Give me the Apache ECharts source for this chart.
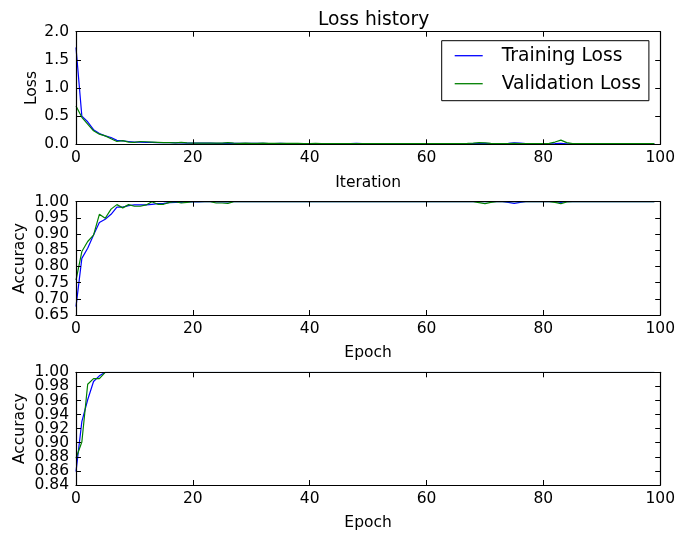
<!DOCTYPE html>
<html><head><meta charset="utf-8">
<script src="https://cdn.jsdelivr.net/npm/echarts@6/dist/echarts.min.js"></script>
<style>html,body{margin:0;padding:0;background:#fff}#c{width:678px;height:535px}</style>
</head><body><div id="c"></div>
<script>
const iterations = Array.from({length:100},(_,i)=>i);
const lossTrain = [1.72,0.50,0.40,0.26,0.19,0.15,0.12,0.07,0.06,0.05,
0.04,0.04,0.035,0.035,0.03,0.03,0.028,0.025,0.025,0.022,
0.02,0.02,0.02,0.02,0.018,0.018,0.02,0.018,0.016,0.016,
0.015,0.015,0.016,0.014,0.014,0.015,0.013,0.013,0.014,0.012,
0.012,0.013,0.012,0.011,0.012,0.011,0.012,0.011,0.015,0.011,
0.01,0.011,0.01,0.01,0.012,0.01,0.01,0.011,0.01,0.01,
0.01,0.01,0.011,0.01,0.01,0.01,0.011,0.01,0.012,0.014,
0.018,0.012,0.01,0.01,0.015,0.028,0.02,0.012,0.01,0.01,
0.01,0.01,0.012,0.015,0.01,0.01,0.01,0.01,0.01,0.01,
0.01,0.01,0.01,0.01,0.01,0.01,0.01,0.01,0.01,0.01];
const lossVal = [0.68,0.48,0.36,0.24,0.18,0.15,0.10,0.05,0.065,0.04,
0.035,0.05,0.045,0.04,0.035,0.03,0.028,0.025,0.035,0.025,
0.02,0.02,0.022,0.02,0.02,0.022,0.03,0.02,0.018,0.02,
0.018,0.018,0.02,0.016,0.016,0.018,0.015,0.015,0.016,0.014,
0.014,0.015,0.013,0.013,0.014,0.012,0.013,0.012,0.013,0.012,
0.012,0.012,0.011,0.012,0.011,0.011,0.012,0.011,0.011,0.012,
0.011,0.011,0.012,0.011,0.012,0.011,0.012,0.015,0.02,0.03,
0.025,0.015,0.012,0.011,0.012,0.015,0.012,0.011,0.011,0.012,
0.011,0.015,0.04,0.075,0.03,0.012,0.011,0.011,0.012,0.011,
0.011,0.011,0.011,0.012,0.011,0.011,0.011,0.011,0.011,0.011];
const accTrain = [0.676,0.825,0.856,0.897,0.936,0.946,0.961,0.983,0.983,0.988,
0.99,0.99,0.99,0.992,0.994,0.995,0.997,0.998,0.998,0.999,
0.999,0.999,1,1,0.999,1,0.999,1,1,1,
1,1,1,1,1,1,1,1,1,1,
1,1,1,1,1,1,1,1,1,1,
1,1,1,1,1,1,1,1,1,1,
1,1,1,1,1,1,1,1,1,1,
1,1,1,1,0.998,0.995,0.998,1,1,1,
1,1,1,0.998,1,1,1,1,1,1,
1,1,1,1,1,1,1,1,1,1];
const accVal = [0.758,0.846,0.877,0.897,0.961,0.949,0.977,0.991,0.981,0.991,
0.986,0.986,0.99,1,0.992,0.992,0.998,1,0.996,0.998,
1,1,1,1,0.996,0.996,0.995,1,1,1,
1,1,1,1,1,1,1,1,1,1,
1,1,1,1,1,1,1,1,1,1,
1,1,1,1,1,1,1,1,1,1,
1,1,1,1,1,1,1,1,1,0.997,
0.994,0.998,1,1,1,1,1,1,1,1,
1,1,0.998,0.994,0.999,1,1,1,1,1,
1,1,1,1,1,1,1,1,1,1];
const acc2Train = [0.859,0.93,0.961,0.987,0.995,1,1,1,1,1,
1,1,1,1,1,1,1,1,1,1,1,1,1,1,1,1,1,1,1,1,
1,1,1,1,1,1,1,1,1,1,1,1,1,1,1,1,1,1,1,1,
1,1,1,1,1,1,1,1,1,1,1,1,1,1,1,1,1,1,1,1,
1,1,1,1,1,1,1,1,1,1,1,1,1,1,1,1,1,1,1,1,
1,1,1,1,1,1,1,1,1,1];
const acc2Val = [0.878,0.901,0.983,0.991,0.991,1,1,1,1,1,
1,1,1,1,1,1,1,1,1,1,1,1,1,1,1,1,1,1,1,1,
1,1,1,1,1,1,1,1,1,1,1,1,1,1,1,1,1,1,1,1,
1,1,1,1,1,1,1,1,1,1,1,1,1,1,1,1,1,1,1,1,
1,1,1,1,1,1,1,1,1,1,1,1,1,1,1,1,1,1,1,1,
1,1,1,1,1,1,1,1,1,1];

const FONT = 'DejaVu Sans';
const grids = [
  {left:76, right:15.3, top:31.7, height:112.6},
  {left:76, right:15.3, top:201.7, height:113.3},
  {left:76, right:15.3, top:372.3, height:112.7}
];
const yCfg = [
  {min:0, max:2, interval:0.5, dec:1, name:'Loss', gap:36},
  {min:0.65, max:1.0, interval:0.05, dec:2, name:'Accuracy', gap:48},
  {min:0.84, max:1.0, interval:0.02, dec:2, name:'Accuracy', gap:48}
];
const xNames = ['Iteration','Epoch','Epoch'];
const xGaps = [31, 30, 30];
const lineS = {color:'#000', width:1.2};
const tickS = {show:true, inside:true, length:5, lineStyle:{color:'#000', width:1}};
const labS = {color:'#000', fontFamily:FONT, fontSize:15.5};
const xAxes = [], yAxes = [];
grids.forEach((g,i)=>{
  xAxes.push({type:'value', gridIndex:i, position:'bottom', min:0, max:100, interval:20, z:10,
    axisLine:{show:true, onZero:false, lineStyle:lineS}, axisTick:tickS, splitLine:{show:false},
    axisLabel:Object.assign({margin:6, showMinLabel:true, showMaxLabel:true}, labS),
    name:xNames[i], nameLocation:'middle', nameGap:xGaps[i], nameMoveOverlap:false,
    nameTextStyle:labS});
  xAxes.push({type:'value', gridIndex:i, position:'top', min:0, max:100, interval:20, z:10,
    axisLine:{show:true, onZero:false, lineStyle:lineS}, axisTick:tickS, splitLine:{show:false},
    axisLabel:{show:false}});
  const c = yCfg[i];
  // main left axis: inner labels (min/max labels drawn by the helper axis below)
  yAxes.push({type:'value', gridIndex:i, position:'left', min:c.min, max:c.max, interval:c.interval, z:10,
    axisLine:{show:true, onZero:false, lineStyle:lineS}, axisTick:tickS, splitLine:{show:false},
    axisLabel:Object.assign({margin:7, showMinLabel:false, showMaxLabel:false, formatter:v=>v.toFixed(c.dec)}, labS),
    name:c.name, nameLocation:'middle', nameGap:c.gap, nameRotate:90, nameMoveOverlap:false,
    nameTextStyle:labS});
  yAxes.push({type:'value', gridIndex:i, position:'right', min:c.min, max:c.max, interval:c.interval, z:10,
    axisLine:{show:true, onZero:false, lineStyle:lineS}, axisTick:tickS, splitLine:{show:false},
    axisLabel:{show:false}});
  // helper left axis: only min & max labels
  yAxes.push({type:'value', gridIndex:i, position:'left', offset:0, min:c.min, max:c.max, interval:c.interval, z:10,
    axisLine:{show:false}, axisTick:{show:false}, splitLine:{show:false},
    axisLabel:Object.assign({margin:7, customValues:[c.min, c.max], showMinLabel:true, showMaxLabel:true, formatter:v=>v.toFixed(c.dec)}, labS)});
});
function mk(name, data, color, gi){
  return {type:'line', name:name, xAxisIndex:gi*2, yAxisIndex:gi*3,
    data:data.map((v,k)=>[iterations[k], v]), symbol:'none', showSymbol:false,
    lineStyle:{color:color, width:1.2}, itemStyle:{color:color}, animation:false, z:2};
}
const option = {
  animation:false,
  backgroundColor:'#fff',
  title:{text:'Loss history', left:313, top:6, textStyle:{color:'#000', fontFamily:FONT, fontSize:18.7, fontWeight:'normal'}},
  legend:{show:true, data:['Training Loss','Validation Loss'], orient:'vertical', left:441.7, top:40.7,
    width:211, icon:'rect', itemWidth:28, itemHeight:1.3, itemGap:6,
    padding:[4,8,6,13], borderColor:'#000', borderWidth:1, backgroundColor:'#fff',
    textStyle:{color:'#000', fontFamily:FONT, fontSize:18.7, lineHeight:22, padding:[0,0,0,14]}},
  grid:grids,
  xAxis:xAxes, yAxis:yAxes,
  series:[
    mk('Training Loss', lossTrain, '#0000ff', 0),
    mk('Validation Loss', lossVal, '#008000', 0),
    mk('Training Accuracy', accTrain, '#0000ff', 1),
    mk('Validation Accuracy', accVal, '#008000', 1),
    mk('Training Accuracy 2', acc2Train, '#0000ff', 2),
    mk('Validation Accuracy 2', acc2Val, '#008000', 2)
  ]
};
const chart = echarts.init(document.getElementById('c'), null, {renderer:'canvas'});
chart.setOption(option);
</script></body></html>
